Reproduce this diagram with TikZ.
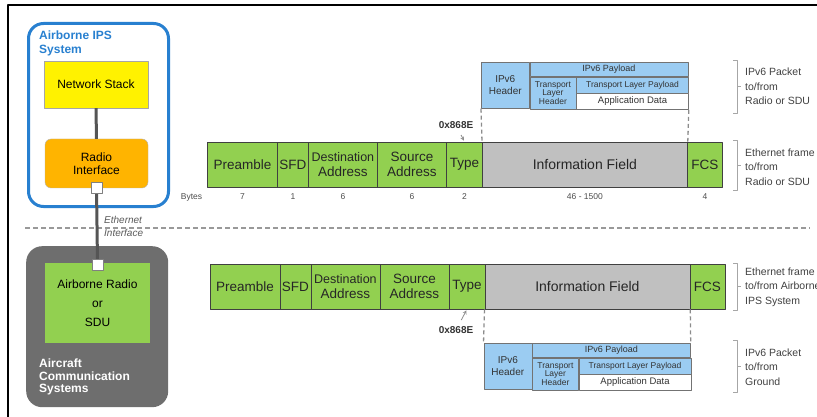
\documentclass[tikz,border=0pt]{standalone}
\usepackage{fontspec}
\setmainfont{Liberation Sans}
\usetikzlibrary{positioning}
\definecolor{fgreen}{RGB}{146,208,80}
\definecolor{fgray}{RGB}{192,192,192}
\definecolor{pblue}{RGB}{155,204,242}
\definecolor{ipsblue}{RGB}{40,128,208}
\definecolor{acsgray}{RGB}{110,110,110}
\definecolor{rorange}{RGB}{255,180,0}
\definecolor{wiregray}{RGB}{85,85,85}
\newcommand{\fsz}[2]{\fontsize{#1}{#2}\selectfont}
\begin{document}
\begin{tikzpicture}[x=1pt,y=-1pt,>=stealth,line join=round,font=\fsz{10}{12},
	field/.style={draw=black!75,line width=.8pt,inner sep=0pt,minimum height=45pt,align=center,anchor=west,text=black!85,font=\fsz{13.5}{15}},
	pkt/.style={draw=black!55,line width=.6pt,fill=pblue,inner sep=0pt,align=center,anchor=north west,text=black!80},
	bytes/.style={font=\fsz{8.5}{10},text=black!70,inner sep=0pt},
	hex/.style={font=\bfseries\fsz{10}{12},text=black!80,inner sep=0pt},
	hexptr/.style={<-,black!45,line width=.8pt,shorten <=1pt},
	guide/.style={black!45,line width=1.3pt,dash pattern=on 4pt off 3pt},
	bracket/.style={black!35,line width=.7pt},
	side/.style={anchor=west,align=left,inner sep=0pt,text=black!75,font=\fsz{10.5}{14.5}},
	box/.style={inner sep=0pt,align=center,font=\fsz{12}{13}},
	port/.style={draw=black!50,fill=white,line width=.6pt,minimum size=11pt,inner sep=0pt},
	wire/.style={wiregray,line width=3pt}]
	\useasboundingbox (0,0) rectangle (817,417);
	\draw[line width=2pt] (8,417) -- (8,5) -- (817,5);
	\draw[black!40,line width=1.6pt,dash pattern=on 5pt off 3pt] (25,228) -- (810,228);
	
	\node[draw=ipsblue,line width=3pt,rounded corners=15pt,fill=white,minimum width=140pt,minimum height=183pt,anchor=north west] (ips) at (27,22) {};
	\node[anchor=north west,align=left,inner sep=0pt,text=ipsblue,font=\bfseries\fsz{12}{13.5}] (ipst) at (39,31) {Airborne IPS\\System};
	\node[box,draw=black!35,fill=yellow,minimum width=104pt,minimum height=47pt] (net) at (96,84.5) {Network Stack};
	\node[box,draw=black!30,fill=rorange,rounded corners=6pt,minimum width=103pt,minimum height=49pt] (radio) at (96.5,163.5) {Radio\\Interface};
	\node[fill=acsgray,rounded corners=16pt,minimum width=142pt,minimum height=161pt,anchor=north west] (acs) at (26,246) {};
	\node[box,fill=fgreen,minimum width=105pt,minimum height=80pt,font=\fsz{12}{19}] (sdu) at (97.5,303) {Airborne Radio\\or\\SDU};
	\node[anchor=north west,align=left,inner sep=0pt,text=white,font=\bfseries\fsz{12}{12.5}] (acst) at (39,359) {Aircraft\\Communication\\Systems};
	\draw[wire] (net) -- (radio);
	\draw[wire] (radio.south) -- (sdu.north);
	\node[port] (rport) at (radio.south) {};
	\node[port] (sport) at ([yshift=-2pt]sdu.north) {};
	\node[anchor=west,align=left,inner sep=0pt,text=black!65,font=\itshape\fsz{10}{13}] (ethi) at (104,226.5) {Ethernet\\Interface};
	
	\foreach \r/\y/\d in {u/164.5/0,l/286.5/2.5}{
		\foreach \n/\a/\b/\t/\c in {pre/207/277/Preamble/fgreen,sfd/277/308/SFD/fgreen,dst/308/377/{\fsz{12.5}{15}Destination\\Address}/fgreen,src/377/446/{Source\\Address}/fgreen,typ/446/482/Type/fgreen,inf/482/687/{\fsz{14}{15}Information Field}/fgray,fcs/687/722/FCS/fgreen}{
			\pgfmathsetmacro\w{\b-\a}
			\node[field,fill=\c,minimum width=\w pt] (\r-\n) at (\a+\d,\y) {\t};
		}
	}
	\node[bytes] (bl) at (191.5,197) {Bytes};
	\foreach \n/\v in {pre/7,sfd/1,dst/6,src/6,typ/2,inf/46 - 1500,fcs/4}
	\node[bytes] (b-\n) at (u-\n.south |- bl) {\v};
	
	\foreach \r/\x/\y in {u/481/62,l/483.5/343}{
		\node[pkt,minimum width=48pt,minimum height=46pt,font=\fsz{10}{12.5}] (\r-hdr) at (\x,\y) {IPv6\\Header};
		\node[pkt,minimum width=158pt,minimum height=14pt,font=\fsz{9}{10}] (\r-pay) at (\r-hdr.north east) {IPv6 Payload};
		\node[pkt,minimum width=46pt,minimum height=32pt,font=\fsz{8.5}{7.5}] (\r-tlh) at (\r-pay.south west) {Transport\\Layer\\Header};
		\node[pkt,minimum width=112pt,minimum height=16pt,font=\fsz{8.5}{10}] (\r-tlp) at (\r-tlh.north east) {Transport Layer Payload};
		\node[pkt,fill=white,minimum width=112pt,minimum height=16pt,font=\fsz{9.5}{11}] (\r-app) at (\r-tlp.south west) {Application Data};
	}
	\draw[guide] (u-hdr.south west) -- (u-inf.north west);
	\draw[guide] (u-app.south east) -- (u-inf.north east);
	\draw[guide] (l-inf.south west) -- (l-hdr.north west);
	\draw[guide] (l-inf.south east) -- (l-pay.north east);
	
	\node[hex] (u-hex) at (456,125) {0x868E};
	\node[hex] (l-hex) at (456,330) {0x868E};
	\draw[hexptr,shorten >=7pt] (u-typ.north) -- (u-hex);
	\draw[hexptr,shorten >=7pt] (l-typ.south) -- (l-hex);
	
	\foreach \a/\b in {60/113,140/190,263/310,340/392}
	\draw[bracket] (733,\a) -- (737,\a) -- (737,\b) -- (733,\b) (737,{(\a+\b)/2}) -- ++(4,0);
	\node[side] (ipu) at (745,86.5) {IPv6 Packet\\to/from\\Radio or SDU};
	\node[side] (ethu) at (745,167) {Ethernet frame\\to/from\\Radio or SDU};
	\node[side] (ethl) at (745,287) {Ethernet frame\\to/from Airborne\\IPS System};
	\node[side] (ipl) at (745,367) {IPv6 Packet\\to/from\\Ground};
\end{tikzpicture}
\end{document}
